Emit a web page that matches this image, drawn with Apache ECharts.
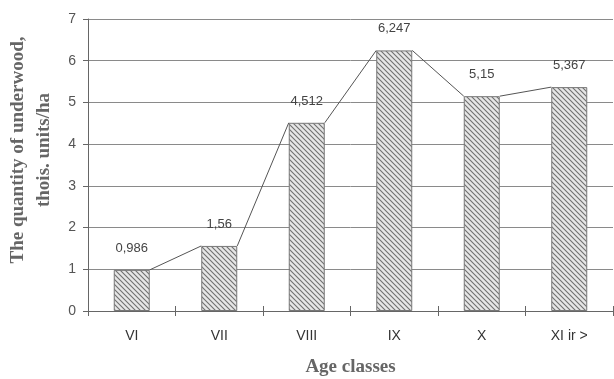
<!DOCTYPE html>
<html>
<head>
<meta charset="utf-8">
<script src="https://cdn.jsdelivr.net/npm/echarts@6/dist/echarts.min.js"></script>
<style>
  html, body { margin: 0; padding: 0; background: #fff; }
  #chart { width: 614px; height: 379px; }
</style>
</head>
<body>
<div id="chart"></div>
<script>
// Age classes and underwood quantity (thous. units/ha)
const categories = ['VI', 'VII', 'VIII', 'IX', 'X', 'XI ir >'];
const values = [0.986, 1.56, 4.512, 6.247, 5.15, 5.367];
const yTicks = [0, 1, 2, 3, 4, 5, 6, 7];

const BAR_W = 36;

// Diagonal hatch fill for the columns
function hatchPattern() {
  const c = document.createElement('canvas');
  c.width = 5; c.height = 5;
  const g = c.getContext('2d');
  g.fillStyle = '#e6e6e6';
  g.fillRect(0, 0, 5, 5);
  g.strokeStyle = '#707070';
  g.lineWidth = 1.1;
  g.beginPath();
  g.moveTo(-1, -1); g.lineTo(6, 6);
  g.moveTo(-1, 4); g.lineTo(1, 6);
  g.moveTo(4, -1); g.lineTo(6, 1);
  g.stroke();
  return c;
}

// Segments joining the top edge of each column to the next one
const linkData = values.slice(0, -1).map((v, i) => [i, v, values[i + 1]]);

const chart = echarts.init(document.getElementById('chart'), null, { renderer: 'canvas' });
chart.setOption({
  animation: false,
  backgroundColor: '#ffffff',
  grid: { left: 88, right: 1, top: 19, bottom: 68, containLabel: false, outerBoundsMode: 'none' },
  xAxis: [
    {
      type: 'category',
      data: categories,
      boundaryGap: true,
      name: 'Age classes',
      nameLocation: 'middle',
      nameGap: 47,
      nameTextStyle: { fontFamily: 'Liberation Serif', fontWeight: 'bold', fontSize: 19, color: '#666' },
      axisLine: { lineStyle: { color: '#666', width: 1 } },
      axisTick: { show: true, alignWithLabel: false, length: 5, lineStyle: { color: '#666' } },
      axisLabel: { fontFamily: 'Liberation Sans', fontSize: 14, color: '#333', margin: 18 }
    },
    {
      // upper half of the crossing tick marks between classes
      type: 'category',
      data: categories,
      position: 'bottom',
      boundaryGap: true,
      axisLine: { show: false },
      axisTick: { show: true, inside: true, alignWithLabel: false, length: 5, lineStyle: { color: '#666' } },
      axisLabel: { show: false }
    }
  ],
  yAxis: {
    type: 'value',
    min: yTicks[0],
    max: yTicks[yTicks.length - 1],
    interval: 1,
    name: 'The quantity of underwood,\nthois. units/ha',
    nameLocation: 'middle',
    nameGap: 30,
    nameTextStyle: {
      fontFamily: 'Liberation Serif', fontWeight: 'bold', fontSize: 19, color: '#666',
      lineHeight: 26, padding: [0, 0, 0, 30]
    },
    axisLine: { show: true, lineStyle: { color: '#666', width: 1 } },
    axisTick: { show: true, length: 5, lineStyle: { color: '#666' } },
    axisLabel: { fontFamily: 'Liberation Sans', fontSize: 14, color: '#555', margin: 12 },
    splitLine: { show: true, lineStyle: { color: '#8a8a8a', width: 1 } }
  },
  series: [
    {
      type: 'bar',
      data: values,
      barWidth: BAR_W,
      itemStyle: {
        color: { image: hatchPattern(), repeat: 'repeat' },
        borderColor: '#777',
        borderWidth: 1
      },
      label: {
        show: true,
        position: 'top',
        distance: 15,
        fontFamily: 'Liberation Sans',
        fontSize: 13,
        color: '#444',
        formatter: p => String(p.value).replace('.', ',')
      },
      z: 2
    },
    {
      type: 'custom',
      data: linkData,
      encode: { x: 0, y: 1 },
      renderItem: (params, api) => {
        const i = api.value(0);
        const a = api.coord([i, api.value(1)]);
        const b = api.coord([i + 1, api.value(2)]);
        return {
          type: 'line',
          shape: { x1: a[0] + BAR_W / 2, y1: a[1], x2: b[0] - BAR_W / 2, y2: b[1] },
          style: { stroke: '#555', lineWidth: 1 }
        };
      },
      z: 3
    }
  ]
});
</script>
</body>
</html>
